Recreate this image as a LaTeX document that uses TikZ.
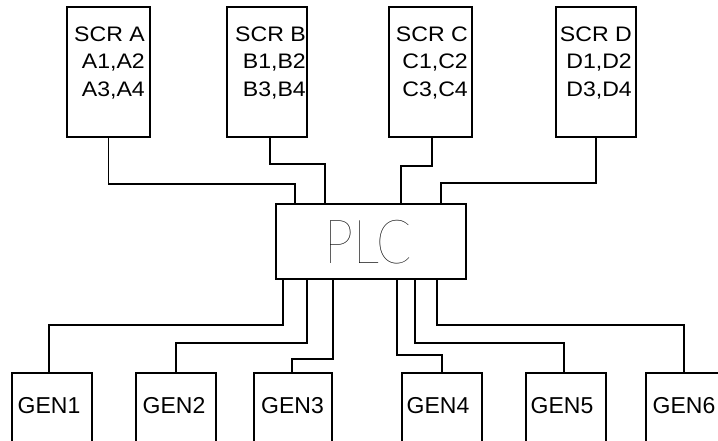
\documentclass[tikz,border=0pt]{standalone}
\usepackage{fontspec}
\setmainfont{Liberation Sans}
\newfontfamily\scrfont[FakeStretch=1.1]{Liberation Sans}
\IfFontExistsTF{Lato Hairline}{\newfontfamily\plcfont[FakeStretch=0.85]{Lato Hairline}}{\newfontfamily\plcfont[FakeStretch=0.8]{Liberation Sans}}
\usetikzlibrary{calc}
\begin{document}
\begin{tikzpicture}[x=1pt,y=-1pt,
  box/.style={draw, rectangle, inner sep=0pt, line width=1.8pt},
  wire/.style={draw, line width=1.8pt},
  scrtext/.style={anchor=north east, inner sep=0pt, align=right, font=\scrfont\fontsize{21}{27.5}\selectfont},
  gentext/.style={anchor=base, inner sep=0pt, font=\fontsize{23}{27}\selectfont}]
\useasboundingbox (0,0) rectangle (718,440);
\clip (0,0) rectangle (718,440);
% SCR boxes
\node[box, minimum width=83pt, minimum height=130pt] (scrA) at (108.5,72) {};
\node[box, minimum width=80pt, minimum height=130pt] (scrB) at (267,72) {};
\node[box, minimum width=83pt, minimum height=130pt] (scrC) at (430.5,72) {};
\node[box, minimum width=80pt, minimum height=130pt] (scrD) at (596,72) {};
\node[scrtext] (scrAt) at (145,26.5) {SCR A\\A1,A2\\A3,A4};
\node[scrtext] (scrBt) at (306,26.5) {SCR B\\B1,B2\\B3,B4};
\node[scrtext] (scrCt) at (468,26.5) {SCR C\\C1,C2\\C3,C4};
\node[scrtext] (scrDt) at (632,26.5) {SCR D\\D1,D2\\D3,D4};
% PLC
\node[box, minimum width=190pt, minimum height=75pt] (plc) at (371,241.5) {};
\node[anchor=base, inner sep=0pt, font=\plcfont\fontsize{61}{70}\selectfont] (plct) at (368.5,263) {PLC};
% GEN boxes
\node[box, minimum width=80pt, minimum height=100pt] (gen1) at (52,423) {};
\node[box, minimum width=80pt, minimum height=100pt] (gen2) at (176,423) {};
\node[box, minimum width=78pt, minimum height=100pt] (gen3) at (293,423) {};
\node[box, minimum width=80pt, minimum height=100pt] (gen4) at (442,423) {};
\node[box, minimum width=80pt, minimum height=100pt] (gen5) at (566,423) {};
\node[box, minimum width=80pt, minimum height=100pt] (gen6) at (686,423) {};
\node[gentext] (gen1t) at (49,413) {GEN1};
\node[gentext] (gen2t) at (174,413) {GEN2};
\node[gentext] (gen3t) at (292.5,413) {GEN3};
\node[gentext] (gen4t) at (438,413) {GEN4};
\node[gentext] (gen5t) at (562,413) {GEN5};
\node[gentext] (gen6t) at (684,413) {GEN6};
% pins on the PLC
\coordinate (pA) at ($(plc.north west)+(20,0)$);
\coordinate (pB) at ($(plc.north west)+(50,0)$);
\coordinate (pC) at ($(plc.north west)+(126,0)$);
\coordinate (pD) at ($(plc.north west)+(166,0)$);
\coordinate (q1) at ($(plc.south west)+(8,0)$);
\coordinate (q2) at ($(plc.south west)+(32,0)$);
\coordinate (q3) at ($(plc.south west)+(58,0)$);
\coordinate (q4) at ($(plc.south west)+(122,0)$);
\coordinate (q5) at ($(plc.south west)+(140,0)$);
\coordinate (q6) at ($(plc.south west)+(162,0)$);
% connectors
\draw[wire] (scrA.south) -- ++(0,46) -| (pA);
\draw[wire] ($(scrB.south)+(3,0)$) -- ++(0,26) -| (pB);
\draw[wire] ($(scrC.south)+(1.5,0)$) -- ++(0,28) -| (pC);
\draw[wire] (scrD.south) -- ++(0,45) -| (pD);
\draw[wire] (q1) -- ++(0,45) -| ($(gen1.north)+(-3,0)$);
\draw[wire] (q2) -- ++(0,63) -| (gen2.north);
\draw[wire] (q3) -- ++(0,79) -| ($(gen3.north)+(-1,0)$);
\draw[wire] (q4) -- ++(0,75) -| (gen4.north);
\draw[wire] (q5) -- ++(0,63) -| ($(gen5.north)+(-2,0)$);
\draw[wire] (q6) -- ++(0,45) -| ($(gen6.north)+(-2,0)$);
\end{tikzpicture}
\end{document}
